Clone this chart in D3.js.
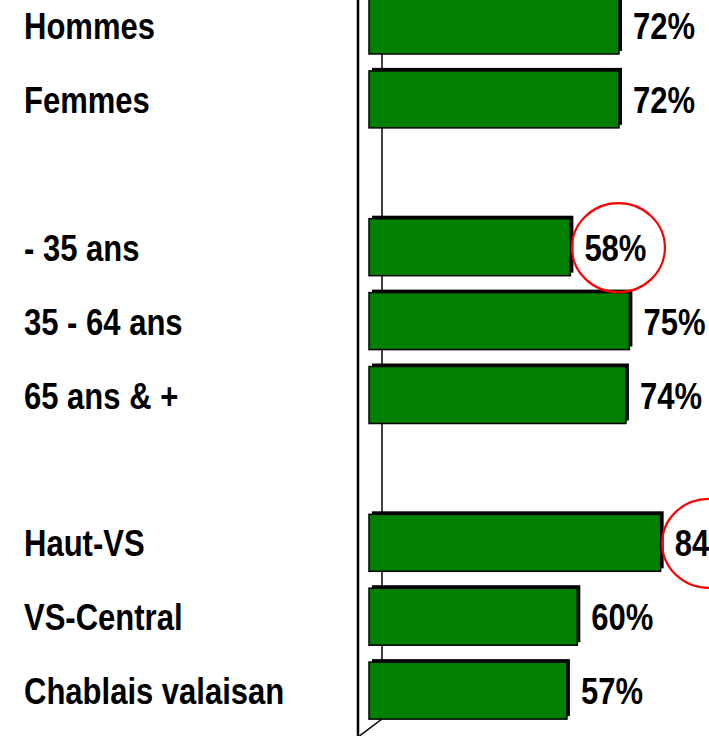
<!DOCTYPE html>
<html>
<head>
<meta charset="utf-8">
<script src="https://cdn.jsdelivr.net/npm/d3@7"></script>
<style>
  html, body { margin: 0; padding: 0; background: #fff; overflow: hidden; }
  svg { display: block; }
</style>
</head>
<body>
<svg id="chart" width="709" height="736"></svg>
<script>
// ---- data ----
const categories = ["Hommes", "Femmes", "", "- 35 ans", "35 - 64 ans", "65 ans & +", "", "Haut-VS", "VS-Central", "Chablais valaisan"];
const values = [72, 72, null, 58, 75, 74, null, 84, 60, 57];
const highlighted = ["- 35 ans", "Haut-VS"];

// ---- layout ----
const W = 709, H = 736;
const FONT = "'Liberation Sans Narrow', 'Arial Narrow', 'Liberation Sans', Arial, sans-serif";
const FS = 37.5;
const svg = d3.select("#chart");

const rows = categories.map((c, i) => ({ i, label: c, value: values[i] }));

const y = d3.scaleBand()
  .domain(rows.map(d => d.i))
  .range([-3, 719.1])
  .paddingInner(0.229)
  .paddingOuter(0);

const x = d3.scaleLinear().domain([0, 100]).range([369, 716.2]);

// detect whether a narrow font is available
const probe = svg.append("text").attr("font-family", FONT).attr("font-weight", "bold")
  .attr("font-size", FS).text("Hommes");
const probeW = probe.node().getComputedTextLength();
probe.remove();
const sx = probeW > 145 ? 131 / probeW : 1;

function addText(parent, tx, ty, str) {
  const g = parent.append("g").attr("transform", `translate(${tx},${ty}) scale(${sx},1)`);
  return g.append("text")
    .attr("x", 0).attr("y", 0)
    .attr("font-family", FONT)
    .attr("font-weight", "bold")
    .attr("font-size", FS)
    .attr("fill", "#000")
    .text(str);
}

// back wall line (behind bars)
svg.append("line")
  .attr("x1", 382).attr("x2", 382).attr("y1", 0).attr("y2", 719)
  .attr("stroke", "#000").attr("stroke-width", 1.5);
// floor diagonal
svg.append("line")
  .attr("x1", 358).attr("y1", 737).attr("x2", 382).attr("y2", 719)
  .attr("stroke", "#000").attr("stroke-width", 1.5);

const data = rows.filter(d => d.value != null);
const depth = 3;

// bars: shadow (3D sides) then front face
const bars = svg.append("g");
bars.selectAll("rect.shadow").data(data).enter().append("rect")
  .attr("class", "shadow")
  .attr("x", x(0) + depth)
  .attr("y", d => y(d.i) - depth)
  .attr("width", d => x(d.value) - x(0))
  .attr("height", y.bandwidth())
  .attr("fill", "#000");
bars.selectAll("rect.front").data(data).enter().append("rect")
  .attr("class", "front")
  .attr("x", x(0))
  .attr("y", d => y(d.i))
  .attr("width", d => x(d.value) - x(0))
  .attr("height", y.bandwidth())
  .attr("fill", "#007f00")
  .attr("stroke", "#000")
  .attr("stroke-width", 1.5);

// front axis line
svg.append("line")
  .attr("x1", 358).attr("x2", 358).attr("y1", 0).attr("y2", H)
  .attr("stroke", "#000").attr("stroke-width", 2.5);

// category labels
const labG = svg.append("g");
rows.filter(d => d.label !== "").forEach(d => {
  const cy = y(d.i) + y.bandwidth() / 2;
  addText(labG, 24, cy + FS * 0.36, d.label);
});

// value labels + highlight circles
const valG = svg.append("g");
data.forEach(d => {
  const cy = y(d.i) + y.bandwidth() / 2;
  const tx = x(d.value) + 14;
  const t = addText(valG, tx, cy + FS * 0.36, d.value + "%");
  const tw = t.node().getComputedTextLength() * sx;
  if (highlighted.includes(d.label)) {
    valG.append("ellipse")
      .attr("cx", tx + tw / 2 + 3)
      .attr("cy", cy + 0.5)
      .attr("rx", 46.5)
      .attr("ry", 44.5)
      .attr("fill", "none")
      .attr("stroke", "#ff0000")
      .attr("stroke-width", 2.2);
  }
});
</script>
</body>
</html>
